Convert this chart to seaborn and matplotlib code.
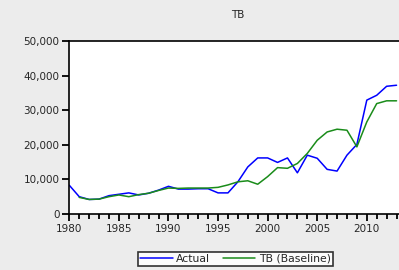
import pandas as pd
import numpy as np
import seaborn as sns
import matplotlib.pyplot as plt
from matplotlib.ticker import MultipleLocator, FuncFormatter

# valores (anuais)
anos = list(range(1980, 2014))
actual = [8300, 5000, 4200, 4300, 5300, 5700, 6100, 5500, 6000, 6900,
          8000, 7200, 7200, 7300, 7300, 6100, 6100, 9300, 13600, 16200,
          16200, 14900, 16200, 11900, 17000, 16100, 12900, 12400, 17000, 20100,
          32900, 34300, 36900, 37200]
anos_base = list(range(1981, 2014))
baseline = [4800, 4200, 4300, 5000, 5500, 5000, 5600, 6000, 6800,
            7500, 7400, 7500, 7500, 7500, 7700, 8400, 9300, 9600, 8600,
            10800, 13400, 13200, 14600, 17500, 21300, 23700, 24500, 24200, 19400,
            26600, 31900, 32700, 32700]

df = pd.concat([
    pd.DataFrame({'ano': anos, 'valor': actual, 'serie': 'Actual'}),
    pd.DataFrame({'ano': anos_base, 'valor': baseline, 'serie': 'TB (Baseline)'}),
])

sns.set_style('ticks')
plt.rcParams['font.family'] = ['DejaVu Sans']

fig = plt.figure(figsize=(3.99, 2.70), dpi=100, facecolor='#ececec')
ax = fig.add_axes([0.1737, 0.2074, 0.845, 0.641])
ax.set_facecolor('white')

sns.lineplot(data=df, x='ano', y='valor', hue='serie',
             palette={'Actual': '#0000ff', 'TB (Baseline)': '#1a8c1a'},
             linewidth=1.1, ax=ax, legend=False)

ax.set_xlim(1980, 2014)
ax.set_ylim(0, 50000)
ax.xaxis.set_major_locator(MultipleLocator(5))
ax.xaxis.set_minor_locator(MultipleLocator(1))
ax.yaxis.set_major_locator(MultipleLocator(10000))
ax.yaxis.set_major_formatter(FuncFormatter(lambda v, p: f'{int(v):,}'))
ax.tick_params(axis='both', which='major', labelsize=7.5, pad=2,
               length=5, width=1.3, color='black', direction='out')
ax.tick_params(axis='x', which='minor', length=3.5, width=1.3,
               color='black', direction='out', bottom=True)
ax.set_xlabel('')
ax.set_ylabel('')
for s in ['left', 'bottom', 'top']:
    ax.spines[s].set_visible(True)
    ax.spines[s].set_color('black')
    ax.spines[s].set_linewidth(1.2)
ax.spines['right'].set_visible(False)

fig.text(0.595, 0.945, 'TB', ha='center', va='center', fontsize=7.5)

handles = [plt.Line2D([], [], color='#0000ff', lw=1.1),
           plt.Line2D([], [], color='#1a8c1a', lw=1.1)]
leg = fig.legend(handles, ['Actual', 'TB (Baseline)'], loc='lower center',
                 bbox_to_anchor=(0.59, -0.005), ncol=2, fontsize=7.8,
                 frameon=True, fancybox=False, handlelength=3.0,
                 columnspacing=1.2, handletextpad=0.3, borderpad=0.2)
leg.get_frame().set_edgecolor('black')
leg.get_frame().set_linewidth(1.2)
leg.get_frame().set_facecolor('white')

fig.savefig('out.png', dpi=100, facecolor=fig.get_facecolor())
